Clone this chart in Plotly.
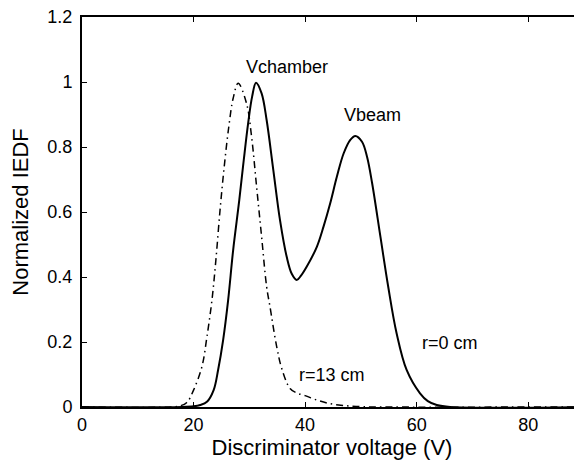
import plotly.graph_objects as go

# r = 0 cm (solid)
x_r0 = [0, 18, 20.0, 21.2, 22.4, 23.6, 24.4, 25.3, 26.2, 27.1, 28.2, 29.0, 29.8, 30.5, 31.2, 32.2,
        33.1, 34.3, 35.5, 36.7, 37.6, 38.5, 39.3, 40.3, 42.1, 43.3, 44.5, 45.7, 46.9, 48.1, 49.0,
        50.2, 51.1, 52.0, 53.5, 54.9, 56.4, 58.2, 60.6, 62.0, 63.6, 66, 90]
y_r0 = [0, 0, 0.002, 0.006, 0.016, 0.052, 0.114, 0.206, 0.329, 0.483, 0.637, 0.76, 0.875, 0.955,
        0.998, 0.965, 0.883, 0.729, 0.575, 0.462, 0.41, 0.391, 0.405, 0.432, 0.493, 0.555, 0.627,
        0.709, 0.78, 0.822, 0.834, 0.816, 0.77, 0.69, 0.524, 0.37, 0.227, 0.114, 0.042, 0.018,
        0.006, 0, 0]

# r = 13 cm (dash-dot)
x_r13 = [0, 16, 17.5, 18.8, 20.0, 21.5, 22.4, 23.3, 24.0, 24.75, 25.5, 26.3, 27.1, 28.0, 29.5,
         30.4, 31.3, 32.2, 33.1, 33.7, 34.9, 35.8, 37.3, 38.5, 40.0, 42.0, 44.0, 46.0, 48.0, 50.0,
         53, 90]
y_r13 = [0, 0, 0.003, 0.014, 0.052, 0.124, 0.216, 0.329, 0.452, 0.606, 0.74, 0.86, 0.95, 0.996,
         0.934, 0.832, 0.678, 0.524, 0.37, 0.309, 0.186, 0.119, 0.057, 0.043, 0.035, 0.022, 0.012,
         0.006, 0.003, 0.001, 0, 0]

x_ticks = [0, 20, 40, 60, 80]
y_ticks = [0, 0.2, 0.4, 0.6, 0.8, 1, 1.2]
y_tick_text = ["0", "0.2", "0.4", "0.6", "0.8", "1", "1.2"]

labels = ["Vchamber", "Vbeam", "r=0 cm", "r=13 cm"]
label_x = [36.8, 52.1, 65.9, 44.9]
label_y = [1.046, 0.9, 0.197, 0.098]

FONT = "Liberation Sans, Arial, Helvetica, sans-serif"
FS = 18

fig = go.Figure()
fig.add_trace(go.Scatter(x=x_r13, y=y_r13, mode="lines",
                         line=dict(color="black", width=1.5, dash="7px,4px,1.5px,4px",
                                   shape="spline", smoothing=1.0),
                         showlegend=False))
fig.add_trace(go.Scatter(x=x_r0, y=y_r0, mode="lines",
                         line=dict(color="black", width=2, shape="spline", smoothing=1.0),
                         showlegend=False))
# invisible traces on secondary axes to get the top border and right-side tick marks
fig.add_trace(go.Scatter(x=[0], y=[0], xaxis="x2", yaxis="y2", mode="markers",
                         marker=dict(opacity=0), showlegend=False, hoverinfo="skip"))

for t, x, y in zip(labels, label_x, label_y):
    fig.add_annotation(x=x, y=y, text=t, showarrow=False,
                       font=dict(family=FONT, size=FS, color="black"))

# page body has an 8px margin, so margins are offset to place the plot area at 82..582 x 17..407
fig.update_layout(
    width=574, height=454,
    margin=dict(l=74, r=0, t=9, b=55),
    paper_bgcolor="white", plot_bgcolor="white",
    font=dict(family=FONT, size=FS, color="black"),
    xaxis=dict(range=[0, 89.64], tickvals=x_ticks, ticks="inside", ticklen=5,
               tickcolor="black", tickwidth=1, showline=True, linecolor="black",
               linewidth=2, showgrid=False, zeroline=False,
               automargin=False, ticklabeloverflow="allow",
               title=dict(text="Discriminator voltage (V)", standoff=6),
               tickfont=dict(size=FS)),
    xaxis2=dict(range=[0, 89.64], tickvals=x_ticks, overlaying="x", side="top",
                ticks="inside", ticklen=5, tickcolor="black", tickwidth=1,
                showline=True, linecolor="black", linewidth=2, showticklabels=False,
                showgrid=False, zeroline=False, automargin=False),
    yaxis=dict(range=[0, 1.2], tickvals=y_ticks, ticktext=y_tick_text, ticks="inside",
               ticklen=5, tickcolor="black", tickwidth=1, showline=True,
               linecolor="black", linewidth=2, showgrid=False, zeroline=False,
               automargin=False, ticklabelstandoff=4, ticklabeloverflow="allow",
               title=dict(text="Normalized IEDF", standoff=19), tickfont=dict(size=FS)),
    yaxis2=dict(range=[0, 1.2], tickvals=y_ticks, overlaying="y", side="right",
                ticks="inside", ticklen=5, tickcolor="black", tickwidth=1,
                showline=False, showticklabels=False, showgrid=False, zeroline=False,
                automargin=False),
)

fig.write_html("out.html")
